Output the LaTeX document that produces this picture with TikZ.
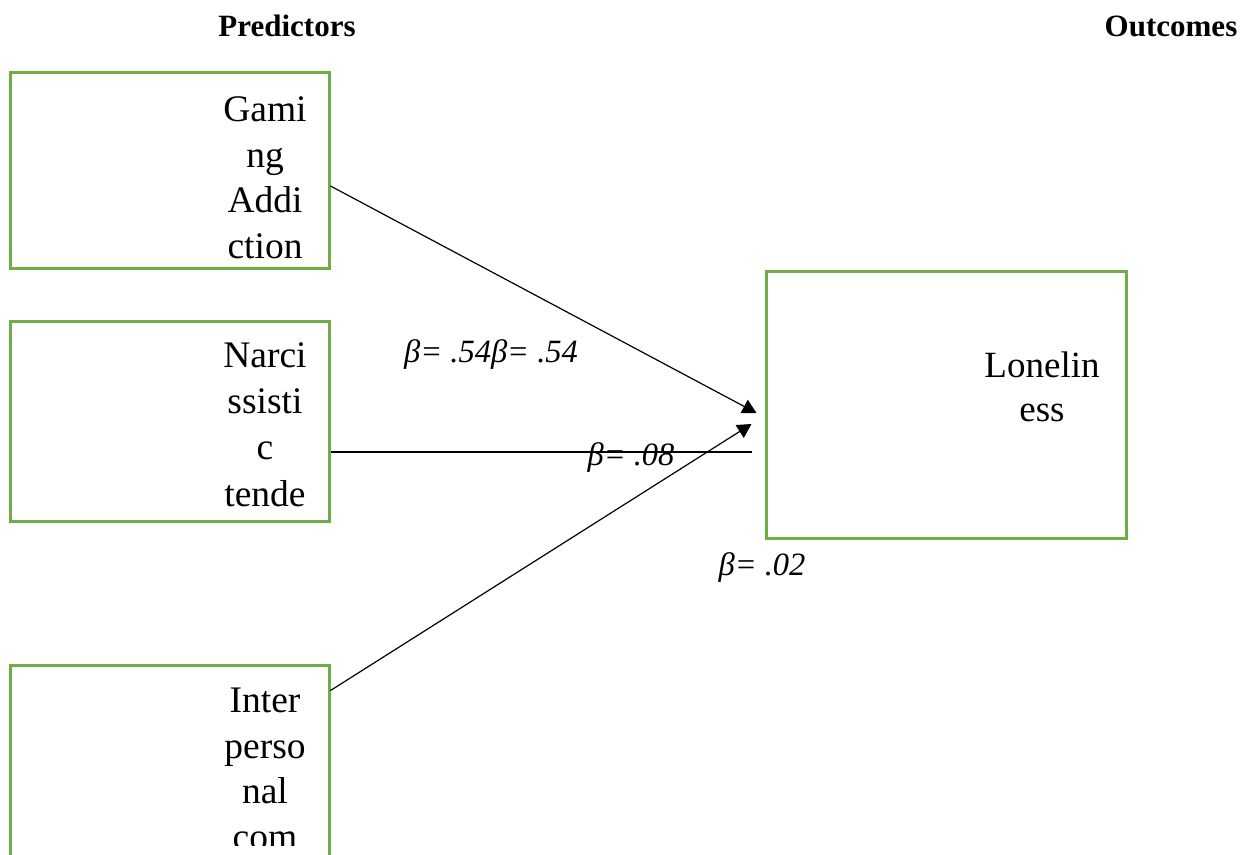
\documentclass[tikz,border=0pt]{standalone}
\usepackage{fontspec}
\setmainfont{Liberation Serif}
\usetikzlibrary{arrows.meta}
\definecolor{boxgreen}{RGB}{112,173,71}

\begin{document}
\begin{tikzpicture}[x=1pt, y=-1pt, >={Triangle[length=14pt, width=15pt]},
	varbox/.style={draw=boxgreen, line width=3pt, minimum width=319pt, inner sep=0pt},
	boxtext/.style={align=center, font=\fontsize{37.5}{45.5}\selectfont, inner sep=0pt, anchor=base},
	coef/.style={font=\fontsize{32.5}{36}\selectfont\itshape, inner sep=0pt, anchor=base},
	colhead/.style={font=\fontsize{31}{36}\selectfont\bfseries, inner sep=0pt, anchor=base},
	link/.style={line width=1.2pt}]
	\useasboundingbox (0,0) rectangle (1247,854);
	\node[colhead] (pred) at (287,36) {Predictors};
	\node[colhead] (outc) at (1171,36) {Outcomes};
	% boxes in pixel coordinates, y grows downwards
	\node[varbox, minimum height=196pt] (gam) at (169.5,170) {};
	\node[varbox, minimum height=200pt] (nar) at (169.5,421) {};
	\node[varbox, minimum height=260pt] (int) at (169.5,795) {};
	\node[varbox, minimum width=360pt, minimum height=267pt] (lon) at (946,404.5) {};
	% base anchor = baseline of the last line
	\node[boxtext] (gamtext) at (265,258) {Gami\\ng\\Addi\\ction};
	\node[boxtext, font=\fontsize{37.5}{46.3}\selectfont] (nartext) at (265,506) {Narci\\ssisti\\c\\tende};
	\begin{scope}
		\clip (0,0) rectangle (1247,845);
		\node[boxtext] (inttext) at (265,849) {Inter\\perso\\nal\\com};
	\end{scope}
	\node[boxtext, font=\fontsize{37}{44}\selectfont] (lontext) at (1042,421) {Lonelin\\ess};
	\draw[link,->] ([yshift=-16pt]gam.east) -- ([xshift=-8pt, yshift=-8.5pt]lon.west);
	\draw[link] ([yshift=-31pt]nar.east) -- ([xshift=-13pt, yshift=-47.5pt]lon.west);
	\draw[link,->] ([yshift=-27pt]int.north east) -- ([xshift=-13pt, yshift=-19.5pt]lon.west);
	\node[coef] (b1) at (491,362) {β= .54β= .54};
	\node[coef] (b2) at (631,465) {β= .08};
	\node[coef] (b3) at (762,575) {β= .02};
\end{tikzpicture}
\end{document}
